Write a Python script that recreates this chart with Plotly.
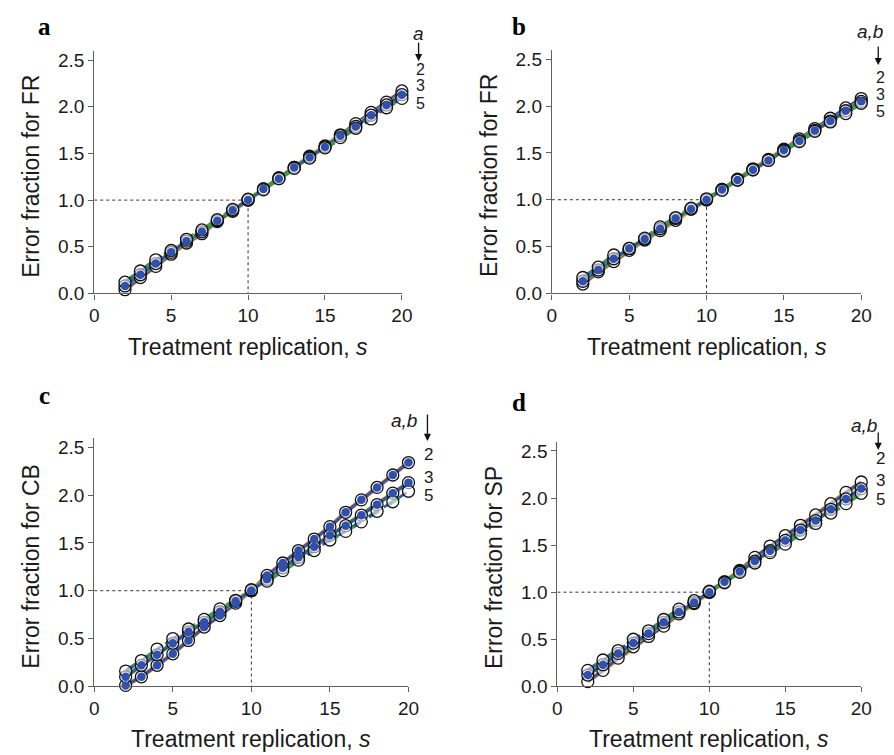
import plotly.graph_objects as go

# ---------------- data ----------------
s_vals = list(range(2, 21))
a_labels = ["2", "3", "5"]
x_ticks = [0, 5, 10, 15, 20]
y_ticks = [0.0, 0.5, 1.0, 1.5, 2.0, 2.5]
y_tick_text = ["0.0", "0.5", "1.0", "1.5", "2.0", "2.5"]
ref_s = 10
ref_frac = 1.0

panel_letters = ["a", "b", "c", "d"]
panel_ylabels = ["Error fraction for FR", "Error fraction for FR",
                 "Error fraction for CB", "Error fraction for SP"]
panel_keys = ["<i>a</i>", "<i>a,b</i>", "<i>a,b</i>", "<i>a,b</i>"]

fr_a_2 = [0.04, 0.17, 0.29, 0.42, 0.54, 0.64, 0.77, 0.88, 1.00, 1.12, 1.24, 1.35, 1.47, 1.58, 1.70, 1.82, 1.94, 2.05, 2.17]
fr_a_3 = [0.08, 0.20, 0.32, 0.44, 0.56, 0.66, 0.78, 0.89, 1.00, 1.12, 1.23, 1.35, 1.46, 1.57, 1.69, 1.79, 1.91, 2.02, 2.13]
fr_a_5 = [0.12, 0.24, 0.36, 0.46, 0.58, 0.68, 0.79, 0.90, 1.01, 1.11, 1.23, 1.34, 1.45, 1.56, 1.67, 1.77, 1.87, 1.99, 2.09]

fr_ab_2 = [0.10, 0.23, 0.34, 0.46, 0.57, 0.67, 0.78, 0.90, 1.00, 1.11, 1.22, 1.33, 1.43, 1.54, 1.65, 1.76, 1.87, 1.98, 2.08]
fr_ab_3 = [0.13, 0.25, 0.37, 0.48, 0.58, 0.69, 0.80, 0.90, 1.00, 1.11, 1.21, 1.32, 1.42, 1.53, 1.63, 1.74, 1.84, 1.95, 2.05]
fr_ab_5 = [0.17, 0.28, 0.41, 0.48, 0.59, 0.71, 0.81, 0.91, 1.01, 1.10, 1.21, 1.32, 1.42, 1.52, 1.62, 1.73, 1.83, 1.92, 2.03]

cb_2 = [0.01, 0.10, 0.22, 0.34, 0.48, 0.62, 0.74, 0.87, 1.00, 1.16, 1.29, 1.42, 1.54, 1.67, 1.82, 1.95, 2.08, 2.21, 2.34]
cb_3 = [0.10, 0.22, 0.33, 0.45, 0.57, 0.67, 0.78, 0.89, 1.00, 1.12, 1.24, 1.35, 1.46, 1.58, 1.68, 1.79, 1.90, 2.02, 2.13]
cb_5 = [0.16, 0.27, 0.39, 0.50, 0.60, 0.70, 0.81, 0.90, 1.01, 1.10, 1.21, 1.32, 1.42, 1.53, 1.62, 1.72, 1.83, 1.93, 2.04]

sp_2 = [0.05, 0.17, 0.30, 0.42, 0.53, 0.64, 0.77, 0.88, 1.00, 1.11, 1.23, 1.37, 1.49, 1.60, 1.71, 1.82, 1.94, 2.06, 2.17]
sp_3 = [0.12, 0.23, 0.35, 0.46, 0.56, 0.68, 0.79, 0.89, 1.00, 1.11, 1.22, 1.33, 1.44, 1.55, 1.66, 1.76, 1.88, 1.99, 2.10]
sp_5 = [0.17, 0.28, 0.38, 0.50, 0.59, 0.71, 0.82, 0.91, 1.01, 1.10, 1.21, 1.31, 1.42, 1.51, 1.62, 1.73, 1.84, 1.94, 2.05]

panel_series = [
    [fr_a_2, fr_a_3, fr_a_5],
    [fr_ab_2, fr_ab_3, fr_ab_5],
    [cb_2, cb_3, cb_5],
    [sp_2, sp_3, sp_5],
]
# which series carry the filled blue dots in each panel
dot_series = [[1], [1], [0, 1], [1]]

# ---------------- layout geometry (pixels) ----------------
W, H = 894, 755
boxes = [
    (82.7, 396.0, 42.5, 289.0),
    (548.7, 863.7, 41.5, 289.0),
    (82.7, 402.7, 435.6, 688.3),
    (554.3, 863.7, 439.5, 688.3),
]

def px(x):
    return x / W

def py(y):
    return 1 - y / H

FONT = "Liberation Sans, Arial, Helvetica, sans-serif"
TXT = "#1a1a1a"
AXC = "#606060"
BLUE = "#3050b0"
line_styles = [
    [("#f39a1f", 4.4, "solid"), ("#3354b4", 3.0, "solid")],
    [("#e8c83a", 4.4, "solid"), ("#3c9a4a", 3.6, "solid"), ("#3354b4", 2.8, "solid")],
    [("#3c9a4a", 4.0, "dash"), ("#3354b4", 2.6, "dash")],
]

fig = go.Figure()

for i, (x0, x1, yt, yb) in enumerate(boxes):
    xa = "x" if i == 0 else f"x{i+1}"
    ya = "y" if i == 0 else f"y{i+1}"
    sfx = "" if i == 0 else str(i + 1)
    fig.add_trace(go.Scatter(x=[0, ref_s, ref_s], y=[ref_frac, ref_frac, 0], mode="lines",
                             line=dict(color="#333333", width=1, dash="dot"),
                             xaxis=xa, yaxis=ya, showlegend=False, hoverinfo="skip"))
    series = panel_series[i]
    for k, vals in enumerate(series):
        for col, wdt, dsh in line_styles[k]:
            fig.add_trace(go.Scatter(x=s_vals, y=vals, mode="lines",
                                     line=dict(color=col, width=wdt, dash=dsh),
                                     xaxis=xa, yaxis=ya, showlegend=False, cliponaxis=False))
    for k, vals in enumerate(series):
        fig.add_trace(go.Scatter(x=s_vals, y=vals, mode="markers",
                                 marker=dict(size=12, color="rgba(255,255,255,0.55)",
                                             line=dict(color="#111111", width=1.3)),
                                 xaxis=xa, yaxis=ya, showlegend=False, cliponaxis=False))
    for k in dot_series[i]:
        fig.add_trace(go.Scatter(x=s_vals, y=series[k], mode="markers",
                                 marker=dict(size=8.5, color=BLUE, line=dict(width=0)),
                                 xaxis=xa, yaxis=ya, showlegend=False, cliponaxis=False))

    axis_common = dict(showgrid=False, zeroline=False, showline=True, linecolor=AXC, linewidth=1.2,
                       ticks="outside", ticklen=5, tickcolor=AXC, tickwidth=1.2,
                       tickfont=dict(family=FONT, size=19, color=TXT))
    fig.update_layout(**{
        f"xaxis{sfx}": dict(domain=[px(x0), px(x1)], range=[0, 20], tickvals=x_ticks,
                            anchor=ya, **axis_common),
        f"yaxis{sfx}": dict(domain=[py(yb), py(yt)], range=[0, 2.6], tickvals=y_ticks,
                            ticktext=y_tick_text, anchor=xa, **axis_common),
    })

annotations = []
xt_y = [343, 343, 741.5, 741.5]
yt_x = [18, 484, 18, 490]
letter_pos = [(32, 18), (515, 18), (32, 393), (515, 400)]
for i, (x0, x1, yt, yb) in enumerate(boxes):
    annotations.append(dict(text="Treatment replication, <i>s</i>", x=px((x0 + x1) / 2), y=py(xt_y[i]),
                            xref="paper", yref="paper", showarrow=False, xanchor="center", yanchor="middle",
                            font=dict(family=FONT, size=23, color=TXT)))
    annotations.append(dict(text=panel_ylabels[i], x=px(yt_x[i]), y=py((yt + yb) / 2 + 4),
                            xref="paper", yref="paper", showarrow=False, textangle=-90,
                            xanchor="center", yanchor="middle",
                            font=dict(family=FONT, size=23, color=TXT)))
    lx, ly = letter_pos[i]
    annotations.append(dict(text="<b>" + panel_letters[i] + "</b>", x=px(lx), y=py(ly),
                            xref="paper", yref="paper", showarrow=False, xanchor="center", yanchor="middle",
                            font=dict(family="Liberation Serif, Times New Roman, serif", size=25, color="#000")))

# (key_x, key_y, arrow_x, arrow_top, arrow_tip, num_x, num_ys, num_font)
keys = [
    (413, 25, 413, 33, 53, 415, [61, 78, 96], 16),
    (873, 23, 881, 37, 57, 883, [70, 87, 104], 16),
    (398, 418, 422, 411, 439, 423, [453, 476, 494], 17),
    (867, 423, 881, 429, 448, 883, [457, 479, 498], 17),
]
for i, (kx, ky, ax_, at, atip, nx, nys, nf) in enumerate(keys):
    annotations.append(dict(text=panel_keys[i], x=px(kx), y=py(ky), xref="paper", yref="paper",
                            showarrow=False, xanchor="center", yanchor="middle",
                            font=dict(family=FONT, size=19, color=TXT)))
    annotations.append(dict(text="", x=px(ax_), y=py(atip), xref="paper", yref="paper",
                            showarrow=True, ax=0, ay=-(atip - at), arrowhead=2, arrowsize=1.1,
                            arrowwidth=1.3, arrowcolor="#111"))
    for lab, ny in zip(a_labels, nys):
        annotations.append(dict(text=lab, x=px(nx), y=py(ny), xref="paper", yref="paper",
                                showarrow=False, xanchor="center", yanchor="middle",
                                height=15, borderpad=0,
                                font=dict(family=FONT, size=nf, color=TXT)))

fig.update_layout(width=W, height=H, margin=dict(l=0, r=0, t=0, b=0),
                  paper_bgcolor="white", plot_bgcolor="white", annotations=annotations,
                  showlegend=False)

fig.write_html("out.html")
